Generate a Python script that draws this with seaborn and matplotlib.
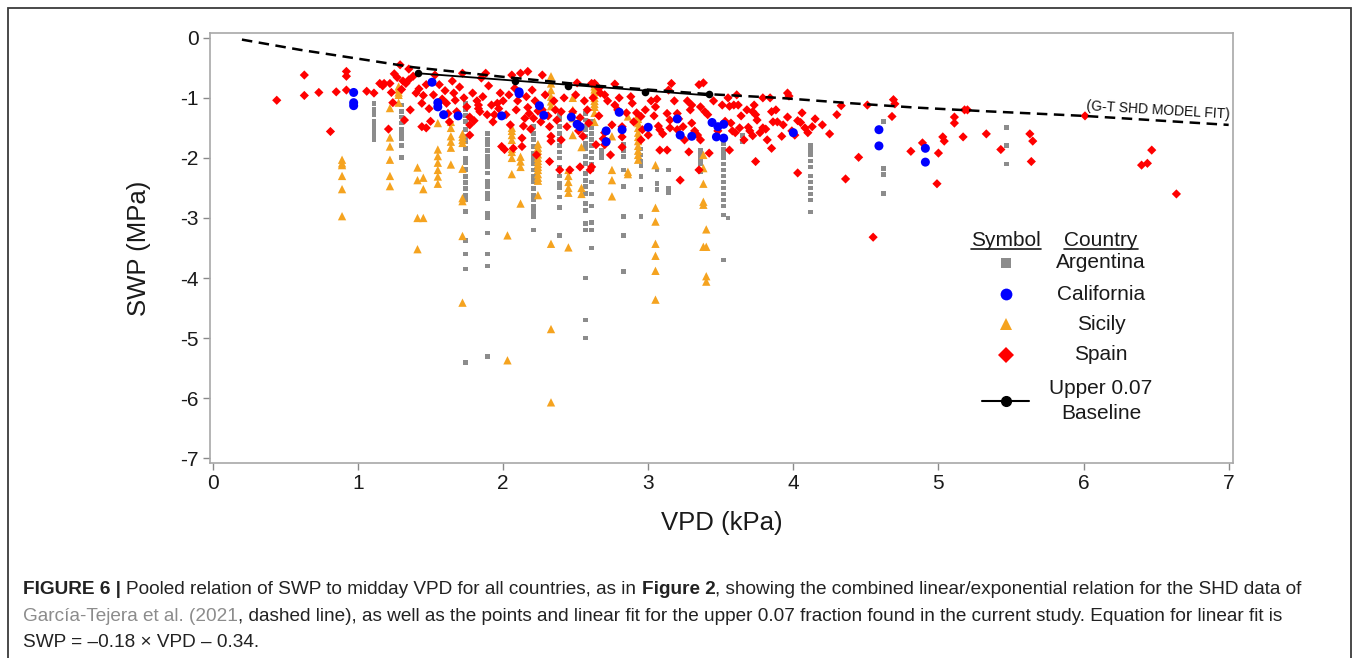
import numpy as np
import pandas as pd
import matplotlib
matplotlib.use("Agg")
import matplotlib.pyplot as plt
import seaborn as sns
from matplotlib.lines import Line2D
from matplotlib.patches import Rectangle

# ---------------- data ----------------
countries = ["Argentina", "California", "Sicily", "Spain"]
country_colors = ["#8c8c8c", "#0000ff", "#f5a31f", "#ff0000"]

# Argentina: vertical columns of measurements (VPD of column, SWP values)
arg_col_vpd = [1.11, 1.30, 1.74, 1.89, 2.21, 2.39, 2.57, 2.61, 2.68, 2.83, 2.95,
               3.06, 3.14, 3.36, 3.52, 3.55, 3.65, 4.12, 4.62, 5.47]
arg_col_swp = [
    [-1.10, -1.20, -1.28, -1.39, -1.48, -1.56, -1.64, -1.70],
    [-1.12, -1.23, -1.32, -1.42, -1.53, -1.59, -1.67, -1.80, -1.99],
    [-1.09, -1.19, -1.30, -1.39, -1.53, -1.64, -1.73, -1.84, -2.00, -2.08, -2.19,
     -2.31, -2.41, -2.51, -2.62, -2.70, -2.89, -3.38, -3.60, -3.85, -5.41],
    [-1.59, -1.70, -1.78, -1.87, -1.98, -2.06, -2.14, -2.25, -2.39, -2.48, -2.59,
     -2.67, -2.92, -3.00, -3.25, -3.60, -3.80, -5.31],
    [-1.48, -1.59, -1.70, -1.81, -1.92, -2.01, -2.09, -2.20, -2.31, -2.39, -2.51,
     -2.62, -2.70, -2.81, -2.89, -2.98, -3.20],
    [-1.30, -1.37, -1.48, -1.60, -1.70, -1.80, -1.90, -2.00, -2.15, -2.30, -2.42,
     -2.50, -2.65, -2.82, -3.29],
    [-1.26, -1.37, -1.48, -1.53, -1.64, -1.76, -1.84, -1.98, -2.09, -2.26, -2.37,
     -2.48, -2.59, -2.76, -2.87, -3.09, -3.20, -4.00, -4.70, -5.00],
    [-1.40, -1.50, -1.60, -1.70, -1.80, -1.90, -2.00, -2.10, -2.20, -2.40, -2.60,
     -2.80, -3.08, -3.20, -3.50],
    [-1.87, -1.95, -2.00],
    [-1.78, -1.88, -1.98, -2.20, -2.48, -2.98, -3.29, -3.89],
    [-1.85, -1.95, -2.05, -2.12, -2.31, -2.53, -2.98],
    [-2.20, -2.42, -2.53],
    [-2.20, -2.50, -2.58],
    [-1.87, -1.95, -2.03, -2.10, -2.23],
    [-1.76, -1.85, -1.92, -2.00, -2.10, -2.20, -2.30, -2.40, -2.50, -2.60, -2.70,
     -2.80, -2.95, -3.70],
    [-3.00],
    [-1.63, -1.73],
    [-1.80, -1.88, -1.95, -2.05, -2.15, -2.30, -2.40, -2.50, -2.60, -2.70, -2.90],
    [-1.39, -2.17, -2.28, -2.59],
    [-1.50, -1.80, -2.10],
]

# Sicily: columns of measurements
sic_col_vpd = [0.89, 1.22, 1.28, 1.41, 1.45, 1.55, 1.64, 1.72, 2.03, 2.06, 2.12,
               2.24, 2.33, 2.45, 2.48, 2.54, 2.63, 2.75, 2.86, 2.93, 3.05, 3.38, 3.40]
sic_col_swp = [
    [-2.03, -2.09, -2.12, -2.30, -2.52, -2.97],
    [-1.17, -1.66, -1.81, -2.03, -2.30, -2.47],
    [-0.81, -0.86, -0.91, -0.95, -1.08],
    [-2.16, -2.37, -3.00, -3.52],
    [-2.33, -2.52, -3.00],
    [-1.42, -1.86, -1.97, -2.08, -2.20, -2.31, -2.43],
    [-1.40, -1.50, -1.64, -1.73, -1.83, -2.11],
    [-1.60, -1.65, -1.70, -1.75, -2.18, -2.67, -2.72, -3.30, -4.41],
    [-3.29, -5.37],
    [-1.50, -1.55, -1.62, -1.70, -1.85, -1.90, -2.00, -2.27],
    [-1.98, -2.06, -2.15, -2.76],
    [-1.77, -1.83, -1.88, -1.94, -2.00, -2.05, -2.10, -2.15, -2.20, -2.27, -2.33,
     -2.38, -2.62],
    [-0.64, -0.76, -0.87, -0.98, -1.06, -1.14, -3.43, -4.85, -6.07],
    [-2.20, -2.30, -2.40, -2.50, -2.58, -3.49],
    [-1.00, -1.20, -1.34, -1.62],
    [-1.82, -2.50, -2.60],
    [-0.81, -0.86, -0.90, -0.95, -1.00, -1.05, -1.10, -1.15, -1.25, -1.40],
    [-1.64, -2.20, -2.37, -2.64],
    [-1.31, -2.23, -2.27],
    [-1.28, -1.35, -1.42, -1.50, -1.58, -1.65, -1.72, -1.80, -1.88, -1.95, -2.03],
    [-2.12, -2.83, -3.06, -3.43, -3.63, -3.88, -4.36],
    [-1.95, -2.17, -2.43, -2.73, -2.78, -3.48],
    [-3.19, -3.48, -3.97, -4.06],
]

california_vpd = [0.97, 0.97, 0.97, 1.51, 1.55, 1.55, 1.59, 1.69, 1.99, 2.11, 2.11,
                  2.25, 2.28, 2.47, 2.51, 2.53, 2.71, 2.71, 2.80, 2.82, 3.00, 3.20,
                  3.22, 3.30, 3.44, 3.48, 3.52, 3.47, 3.52, 4.00, 4.59, 4.59, 4.91, 4.91]
california_swp = [-0.91, -1.08, -1.13, -0.74, -1.08, -1.15, -1.28, -1.30, -1.30, -0.90, -0.93,
                  -1.13, -1.29, -1.32, -1.44, -1.48, -1.55, -1.73, -1.24, -1.53, -1.49, -1.35,
                  -1.62, -1.64, -1.41, -1.48, -1.44, -1.65, -1.67, -1.58, -1.53, -1.80, -1.84, -2.07]

spain_points = [
    (0.44, -1.04), (0.63, -0.62), (0.63, -0.96), (0.73, -0.91), (0.81, -1.56), (0.85, -0.90),
    (0.92, -0.56), (0.92, -0.64), (0.92, -0.87), (1.06, -0.89), (1.11, -0.92), (1.15, -0.76),
    (1.18, -0.76), (1.17, -0.80), (1.22, -0.76), (1.23, -0.91), (1.29, -0.45), (1.35, -0.52),
    (1.31, -0.72), (1.33, -0.76), (1.35, -0.70), (1.24, -1.08), (1.32, -1.37), (1.21, -1.52),
    (1.40, -0.92), (1.36, -1.20), (1.44, -1.48), (1.47, -1.50), (1.44, -1.09), (1.47, -0.78),
    (1.50, -1.39), (1.53, -0.62), (1.56, -0.78), (1.61, -1.09), (1.62, -1.26), (1.65, -0.72),
    (1.66, -0.92), (1.67, -1.04), (1.68, -1.23), (1.72, -0.59), (1.77, -1.32), (1.77, -1.45),
    (1.77, -1.62), (1.82, -1.05), (1.83, -1.12), (1.83, -1.18), (1.84, -1.23), (1.85, -0.67),
    (1.88, -0.59), (1.89, -1.28), (1.92, -1.12), (1.94, -1.28), (1.96, -1.09), (1.98, -0.92),
    (1.99, -1.81), (2.01, -1.86), (2.02, -1.28), (2.06, -0.62), (2.07, -1.84), (2.08, -0.84),
    (2.09, -1.20), (2.12, -0.59), (2.13, -1.67), (2.13, -1.81), (2.15, -1.34), (2.17, -0.56),
    (2.17, -1.16), (2.18, -1.26), (2.20, -0.87), (2.21, -1.34), (2.23, -1.95), (2.24, -1.22),
    (2.27, -1.20), (2.27, -0.62), (2.32, -1.48), (2.32, -2.06), (2.33, -1.64), (2.33, -1.72),
    (2.35, -1.05), (2.36, -1.20), (2.39, -2.20), (2.40, -1.23), (2.40, -1.70), (2.46, -2.20),
    (2.48, -1.23), (2.51, -0.75), (2.53, -1.33), (2.53, -2.15), (2.55, -1.64), (2.58, -1.20),
    (2.61, -0.76), (2.64, -1.78), (2.66, -0.84),
    (2.63, -0.76), (2.67, -0.92), (2.70, -0.95), (2.77, -0.77), (2.77, -1.12), (2.79, -1.20),
    (2.70, -1.58), (2.69, -1.68), (2.70, -1.78), (2.74, -1.95), (2.61, -2.15), (2.60, -2.20),
    (2.82, -1.48), (2.82, -1.65), (2.82, -1.82), (2.88, -0.98), (2.89, -1.09), (2.92, -1.25),
    (2.95, -1.31), (2.96, -1.53), (2.95, -1.70), (3.02, -1.05), (3.06, -1.02), (3.04, -1.30),
    (3.07, -1.47), (3.08, -1.53), (3.08, -1.87), (3.13, -1.87), (3.13, -1.26), (3.15, -1.37),
    (3.15, -1.50), (3.16, -0.76), (3.14, -0.87), (3.20, -1.26), (3.21, -1.35), (3.20, -1.53),
    (3.22, -2.37), (3.25, -1.70), (3.28, -1.90), (3.29, -1.20), (3.30, -1.12), (3.30, -1.42),
    (3.32, -1.55), (3.34, -1.62), (3.35, -0.78), (3.38, -0.75), (3.36, -1.15), (3.39, -1.23),
    (3.41, -1.28), (3.36, -1.70), (3.35, -2.20), (3.42, -1.92), (3.51, -1.12), (3.56, -1.14),
    (3.59, -1.12), (3.62, -1.12), (3.53, -1.39), (3.57, -1.42), (3.58, -1.55), (3.60, -1.58),
    (3.56, -1.87), (3.61, -0.95), (3.63, -1.50), (3.69, -1.49), (3.70, -1.55), (3.72, -1.63),
    (3.73, -1.12), (3.74, -1.28), (3.72, -1.23), (3.75, -1.37), (3.79, -1.00), (3.84, -1.00),
    (3.79, -1.50), (3.81, -1.52), (3.74, -2.06), (3.85, -1.23), (3.86, -1.40), (3.85, -1.84),
    (3.89, -1.40), (3.92, -1.64), (3.96, -0.92), (3.97, -0.97), (3.96, -1.32), (3.99, -1.55),
    (4.01, -1.62), (4.03, -1.38), (4.05, -1.41), (4.03, -2.25), (4.08, -1.50), (4.13, -1.48),
    (4.25, -1.60), (4.30, -1.28), (4.33, -1.13), (4.36, -2.35), (4.45, -1.99), (4.51, -1.12),
    (4.55, -3.32), (4.69, -1.03), (4.70, -1.10), (4.68, -1.31), (4.81, -1.89), (4.89, -1.75),
    (5.00, -1.92), (4.99, -2.43), (5.03, -1.65), (5.04, -1.72), (5.11, -1.32), (5.11, -1.42),
    (5.18, -1.20), (5.20, -1.20), (5.17, -1.65), (5.33, -1.60), (5.43, -1.86), (5.63, -1.60),
    (5.65, -1.72), (5.64, -2.06), (6.01, -1.30), (6.40, -2.12), (6.44, -2.09), (6.47, -1.87),
    (6.64, -2.60),
    # further points of the dense band (estimated)
    (1.25, -0.60), (1.27, -0.66), (1.30, -0.86), (1.38, -0.64), (1.42, -0.85), (1.45, -0.96),
    (1.49, -1.18), (1.52, -0.95), (1.58, -1.02), (1.60, -0.88), (1.63, -1.40), (1.70, -0.82),
    (1.73, -1.00), (1.75, -1.15), (1.79, -0.92), (1.80, -1.38), (1.86, -0.98), (1.90, -0.80),
    (1.93, -1.40), (1.97, -1.18), (2.00, -1.05), (2.04, -0.95), (2.05, -1.45), (2.10, -1.05),
    (2.14, -1.47), (2.16, -0.98), (2.19, -1.52), (2.22, -1.05), (2.26, -1.40), (2.29, -0.95),
    (2.31, -1.30), (2.37, -1.37), (2.42, -1.00), (2.44, -1.48), (2.50, -0.95), (2.52, -1.55),
    (2.56, -1.05), (2.59, -1.42), (2.62, -1.00), (2.66, -1.30), (2.72, -1.05), (2.75, -1.45),
    (2.80, -1.00), (2.85, -1.25), (2.90, -1.40), (2.98, -1.20), (3.00, -1.62), (3.05, -1.15),
    (3.10, -1.60), (3.18, -1.05), (3.24, -1.48), (3.27, -1.05), (3.45, -1.05), (3.48, -1.55),
    (3.55, -1.00), (3.64, -1.30), (3.66, -1.70), (3.68, -1.20), (3.77, -1.58), (3.82, -1.70),
    (3.88, -1.20), (3.93, -1.45), (4.06, -1.25), (4.10, -1.58), (4.15, -1.35), (4.20, -1.45),
]

# Garcia-Tejera SHD model fit (dashed curve)
gt_vpd = [0.20, 0.60, 1.06, 1.38, 2.00, 2.60, 3.43, 3.90, 4.40, 4.83, 5.30, 6.00, 7.00]
gt_swp = [-0.03, -0.20, -0.37, -0.49, -0.65, -0.79, -0.94, -1.00, -1.09, -1.16, -1.22, -1.30, -1.45]

# Upper 0.07 baseline points and linear fit end points
base_vpd = [1.41, 2.08, 2.45, 2.98, 3.42]
base_swp = [-0.58, -0.72, -0.80, -0.90, -0.93]
fit_vpd = [1.41, 3.42]
fit_swp = [-0.59, -0.96]

x_ticks = [0, 1, 2, 3, 4, 5, 6, 7]
y_ticks = [0, -1, -2, -3, -4, -5, -6, -7]

# ---------------- build table ----------------
rows = []
for v, col in zip(arg_col_vpd, arg_col_swp):
    rows += [(v, s, "Argentina") for s in col]
for v, col in zip(sic_col_vpd, sic_col_swp):
    rows += [(v, s, "Sicily") for s in col]
rows += [(v, s, "Spain") for v, s in spain_points]
rows += [(v, s, "California") for v, s in zip(california_vpd, california_swp)]
df = pd.DataFrame(rows, columns=["VPD", "SWP", "Country"])

# ---------------- figure ----------------
W, H = 1358, 658
sns.set_theme(style="white")
plt.rcParams["font.family"] = ["Liberation Sans", "DejaVu Sans"]
plt.rcParams["axes.unicode_minus"] = False

fig = plt.figure(figsize=(W / 100, H / 100), dpi=100)
fig.patch.set_facecolor("white")
ax_l, ax_r, ax_t, ax_b = 210, 1233, 33, 463
ax = fig.add_axes([ax_l / W, 1 - ax_b / H, (ax_r - ax_l) / W, (ax_b - ax_t) / H])

palette = dict(zip(countries, country_colors))
markers = {"Argentina": "s", "California": "o", "Sicily": "^", "Spain": "D"}
sizes = {"Argentina": 12, "California": 42, "Sicily": 36, "Spain": 22}

sns.scatterplot(data=df, x="VPD", y="SWP", hue="Country", style="Country",
                size="Country", palette=palette, markers=markers, sizes=sizes,
                linewidth=0, legend=False, ax=ax)

sns.lineplot(x=gt_vpd, y=gt_swp, color="black", linewidth=1.8, sort=False, ax=ax)
ax.lines[-1].set_dashes([4.2, 2.6])
sns.lineplot(x=fit_vpd, y=fit_swp, color="black", linewidth=1.3, sort=False, ax=ax)
sns.scatterplot(x=base_vpd, y=base_swp, color="black", s=30, linewidth=0, ax=ax, zorder=5)

ax.text(6.02, -1.21, "(G-T SHD MODEL FIT)", fontsize=10, rotation=-3.4,
        rotation_mode="anchor", ha="left", va="baseline", color="#111111")

ax.set_xlim(-0.02, 7.03)
ax.set_ylim(-7.08, 0.08)
ax.set_xticks(x_ticks)
ax.set_yticks(y_ticks)
ax.set_xticklabels([str(t) for t in x_ticks])
ax.set_yticklabels([str(t) for t in y_ticks])
ax.tick_params(axis="both", which="major", direction="out", length=5, width=1,
               color="#8a8a8a", labelsize=15, labelcolor="#1a1a1a", pad=3,
               bottom=True, left=True)
for sp in ax.spines.values():
    sp.set_visible(True)
    sp.set_color("#a8a8a8")
    sp.set_linewidth(1.2)
ax.set_xlabel("VPD (kPa)", fontsize=18.5, labelpad=13, color="#1a1a1a")
ax.set_ylabel("SWP (MPa)", fontsize=18.5, labelpad=21, color="#1a1a1a")

# ---------------- legend (drawn manually) ----------------
def fx(x):
    return x / W

def fy(y):
    return 1 - y / H

leg_fs = 15
hdr1 = fig.text(fx(1006), fy(240), "Symbol", ha="center", va="center", fontsize=leg_fs, color="#1a1a1a")
hdr2 = fig.text(fx(1101), fy(240), "Country", ha="center", va="center", fontsize=leg_fs, color="#1a1a1a")

leg_rows = [("Argentina", 263, "s", 7.5), ("California", 294, "o", 8.5),
            ("Sicily", 324, "^", 8.5), ("Spain", 355, "D", 8.5)]
for name, yy, mk, ms in leg_rows:
    fig.add_artist(Line2D([fx(1006)], [fy(yy)], transform=fig.transFigure, marker=mk,
                          markersize=ms, color=palette[name], linestyle="none",
                          markeredgewidth=0))
    fig.text(fx(1101), fy(yy), name, ha="center", va="center", fontsize=leg_fs, color="#1a1a1a")

fig.add_artist(Line2D([fx(982), fx(1029)], [fy(401), fy(401)], transform=fig.transFigure,
                      color="black", linewidth=1.5))
fig.add_artist(Line2D([fx(1006)], [fy(401)], transform=fig.transFigure, marker="o",
                      markersize=7, color="black", linestyle="none"))
fig.text(fx(1101), fy(401), "Upper 0.07\nBaseline", ha="center", va="center",
         fontsize=leg_fs, color="#1a1a1a", linespacing=1.35)

# figure frame
fig.add_artist(Rectangle((fx(8), -0.01), (1351 - 8) / W, fy(8) + 0.01,
                         transform=fig.transFigure, fill=False,
                         edgecolor="#3a3a3a", linewidth=1.3))

# ---------------- caption ----------------
fig.canvas.draw()
renderer = fig.canvas.get_renderer()

for h in (hdr1, hdr2):
    bb = h.get_window_extent(renderer)
    fig.add_artist(Line2D([bb.x0 / W, bb.x1 / W], [fy(249), fy(249)],
                          transform=fig.transFigure, color="#1a1a1a", linewidth=1.2))

cap_fs = 13.66
space_px = 0.278 * cap_fs * 100 / 72
cap_col = "#222222"
link_col = "#8c8c8c"

def write_line(pieces, x0, ybase):
    x = x0
    for text, weight, color, gap in pieces:
        x += gap * space_px
        t = fig.text(x / W, fy(ybase), text, fontsize=cap_fs, fontweight=weight,
                     color=color, ha="left", va="baseline")
        x = t.get_window_extent(renderer).x1

write_line([("FIGURE 6 |", "bold", cap_col, 0),
            ("Pooled relation of SWP to midday VPD for all countries, as in", "normal", cap_col, 1),
            ("Figure 2", "bold", cap_col, 1),
            (", showing the combined linear/exponential relation for the SHD data of", "normal", cap_col, 0)],
           23, 594)
write_line([("García-Tejera et al. (2021", "normal", link_col, 0),
            (", dashed line), as well as the points and linear fit for the upper 0.07 fraction "
             "found in the current study. Equation for linear fit is", "normal", cap_col, 0)],
           23, 621)
write_line([("SWP = \u20130.18 \u00d7 VPD \u2013 0.34.", "normal", cap_col, 0)], 23, 647)

fig.savefig("out.png", dpi=100)
